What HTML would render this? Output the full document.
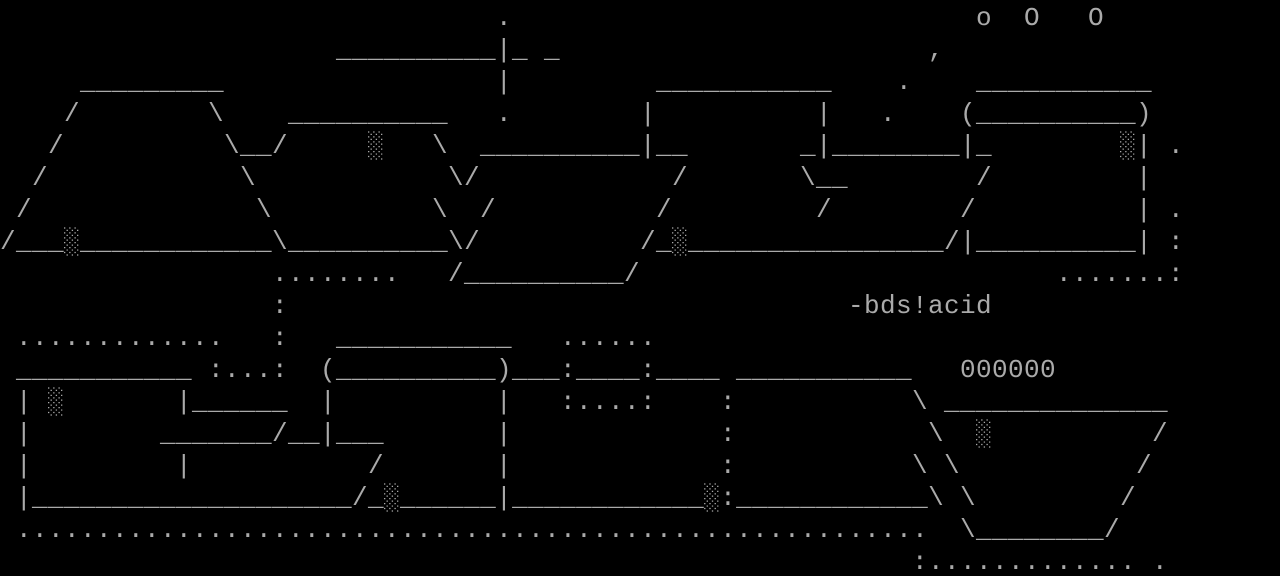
<!DOCTYPE html>
<html><head><meta charset="utf-8"><style>
html,body{margin:0;padding:0;background:#000;}
#c{position:relative;width:1280px;height:576px;overflow:hidden;background:#000;}
#i{position:absolute;left:0;top:2px;width:1280px;height:576px;}
#c span{position:absolute;white-space:pre;font-family:"Liberation Mono","DejaVu Sans Mono",monospace;font-size:26px;letter-spacing:0.4px;line-height:32px;height:32px;color:#aaa;}
</style></head><body><div id="c"><div id="i">
<span style="left:496px;top:0px">.</span>
<span style="left:976px;top:0px">o</span>
<span style="left:1024px;top:0px">O</span>
<span style="left:1088px;top:0px">O</span>

<span style="left:336px;top:32px">__________|_ _</span>
<span style="left:928px;top:32px">,</span>

<span style="left:80px;top:64px">_________</span>
<span style="left:496px;top:64px">|</span>
<span style="left:656px;top:64px">___________</span>
<span style="left:896px;top:64px">.</span>
<span style="left:976px;top:64px">___________</span>

<span style="left:64px;top:96px">/</span>
<span style="left:208px;top:96px">\</span>
<span style="left:288px;top:96px">__________</span>
<span style="left:496px;top:96px">.</span>
<span style="left:640px;top:96px">|</span>
<span style="left:816px;top:96px">|</span>
<span style="left:880px;top:96px">.</span>
<span style="left:960px;top:96px">(__________)</span>

<span style="left:48px;top:128px">/</span>
<span style="left:224px;top:128px">\__/</span>
<span style="left:368px;top:128px">░</span>
<span style="left:432px;top:128px">\</span>
<span style="left:480px;top:128px">__________|__</span>
<span style="left:800px;top:128px">_|________|_</span>
<span style="left:1120px;top:128px">░|</span>
<span style="left:1168px;top:128px">.</span>

<span style="left:32px;top:160px">/</span>
<span style="left:240px;top:160px">\</span>
<span style="left:448px;top:160px">\/</span>
<span style="left:672px;top:160px">/</span>
<span style="left:800px;top:160px">\__</span>
<span style="left:976px;top:160px">/</span>
<span style="left:1136px;top:160px">|</span>

<span style="left:16px;top:192px">/</span>
<span style="left:256px;top:192px">\</span>
<span style="left:432px;top:192px">\</span>
<span style="left:480px;top:192px">/</span>
<span style="left:656px;top:192px">/</span>
<span style="left:816px;top:192px">/</span>
<span style="left:960px;top:192px">/</span>
<span style="left:1136px;top:192px">|</span>
<span style="left:1168px;top:192px">.</span>

<span style="left:0px;top:224px">/___░____________\__________\/</span>
<span style="left:640px;top:224px">/_░________________/|__________|</span>
<span style="left:1168px;top:224px">:</span>

<span style="left:272px;top:256px">........</span>
<span style="left:448px;top:256px">/__________/</span>
<span style="left:1056px;top:256px">.......:</span>

<span style="left:272px;top:288px">:</span>
<span style="left:848px;top:288px">-bds!acid</span>

<span style="left:16px;top:320px">.............</span>
<span style="left:272px;top:320px">:</span>
<span style="left:336px;top:320px">___________</span>
<span style="left:560px;top:320px">......</span>

<span style="left:16px;top:352px">___________</span>
<span style="left:208px;top:352px">:...:</span>
<span style="left:320px;top:352px">(__________)___:____:____</span>
<span style="left:736px;top:352px">___________</span>
<span style="left:960px;top:352px">000000</span>

<span style="left:16px;top:384px">|</span>
<span style="left:48px;top:384px">░</span>
<span style="left:176px;top:384px">|______</span>
<span style="left:320px;top:384px">|</span>
<span style="left:496px;top:384px">|</span>
<span style="left:560px;top:384px">:....:</span>
<span style="left:720px;top:384px">:</span>
<span style="left:912px;top:384px">\</span>
<span style="left:944px;top:384px">______________</span>

<span style="left:16px;top:416px">|</span>
<span style="left:160px;top:416px">_______/__|___</span>
<span style="left:496px;top:416px">|</span>
<span style="left:720px;top:416px">:</span>
<span style="left:928px;top:416px">\</span>
<span style="left:976px;top:416px">░</span>
<span style="left:1152px;top:416px">/</span>

<span style="left:16px;top:448px">|</span>
<span style="left:176px;top:448px">|</span>
<span style="left:368px;top:448px">/</span>
<span style="left:496px;top:448px">|</span>
<span style="left:720px;top:448px">:</span>
<span style="left:912px;top:448px">\</span>
<span style="left:944px;top:448px">\</span>
<span style="left:1136px;top:448px">/</span>

<span style="left:16px;top:480px">|____________________/_░______|____________░:____________\</span>
<span style="left:960px;top:480px">\</span>
<span style="left:1120px;top:480px">/</span>

<span style="left:16px;top:512px">.........................................................</span>
<span style="left:960px;top:512px">\________/</span>

<span style="left:912px;top:544px">:.............</span>
<span style="left:1152px;top:544px">.</span>
</div></div></body></html>
